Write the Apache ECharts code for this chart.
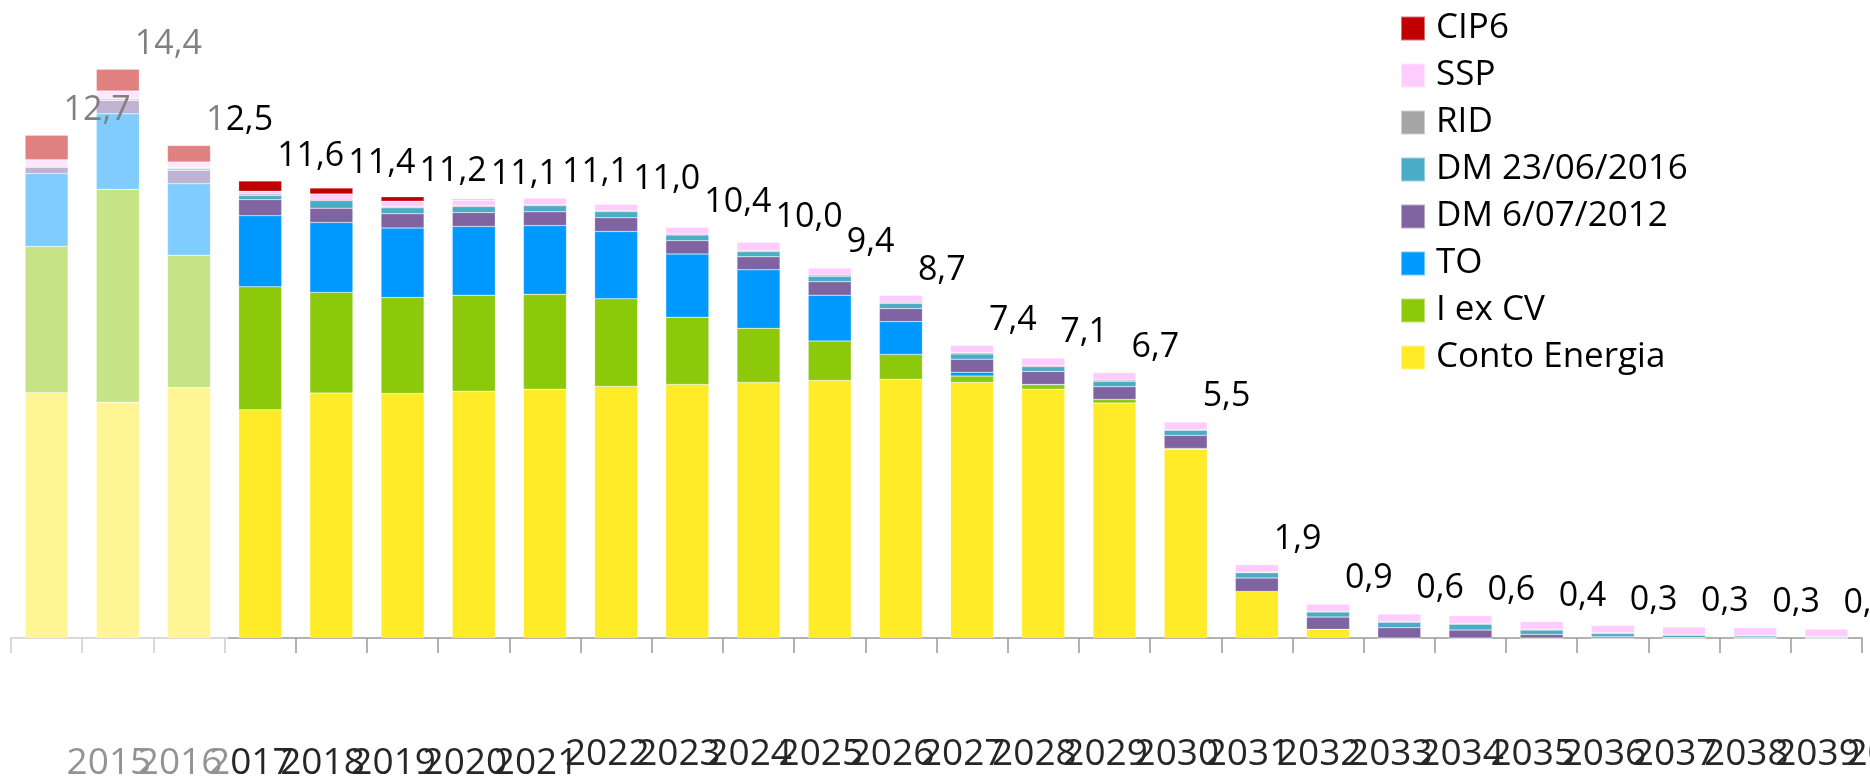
<!DOCTYPE html>
<html>
<head>
<meta charset="utf-8">
<script src="https://cdn.jsdelivr.net/npm/echarts@6.0.0/dist/echarts.min.js"></script>
<style>
	html, body { margin: 0; padding: 0; background: #fff; }
	#incentivi { width: 1870px; height: 777px; }
</style>
</head>
<body>
<div id="incentivi"></div>
<script>
var years = ['2015', '2016', '2017', '2018', '2019', '2020', '2021', '2022', '2023', '2024', '2025', '2026', '2027',
	'2028', '2029', '2030', '2031', '2032', '2033', '2034', '2035', '2036', '2037', '2038', '2039', '2040'];

var contoEnergia = [6.21, 5.97, 6.34, 5.78, 6.20, 6.19, 6.25, 6.30, 6.37, 6.42, 6.47, 6.52, 6.55,
	6.47, 6.30, 5.95, 4.78, 1.18, 0.22, 0, 0, 0, 0, 0, 0, 0];
var iExCv = [3.70, 5.39, 3.35, 3.11, 2.55, 2.43, 2.43, 2.40, 2.22, 1.70, 1.37, 1.00, 0.63,
	0.16, 0.11, 0.09, 0.02, 0, 0, 0, 0, 0, 0, 0, 0, 0];
var to = [1.85, 1.91, 1.81, 1.80, 1.77, 1.76, 1.74, 1.74, 1.70, 1.60, 1.48, 1.16, 0.83,
	0.10, 0.01, 0, 0, 0, 0, 0, 0, 0, 0, 0, 0, 0];
var dm2012 = [0.16, 0.34, 0.34, 0.41, 0.36, 0.36, 0.35, 0.35, 0.35, 0.34, 0.33, 0.34, 0.33,
	0.33, 0.33, 0.32, 0.33, 0.34, 0.31, 0.26, 0.20, 0.09, 0.03, 0.01, 0.01, 0];
var dm2016 = [0, 0, 0.05, 0.10, 0.19, 0.15, 0.15, 0.15, 0.15, 0.14, 0.13, 0.14, 0.13,
	0.13, 0.12, 0.14, 0.13, 0.13, 0.13, 0.14, 0.15, 0.11, 0.08, 0.06, 0.04, 0.02];
var rid = [0.03, 0.05, 0.02, 0.04, 0.04, 0.03, 0.03, 0.03, 0.03, 0.03, 0.03, 0.03, 0.03,
	0.03, 0.03, 0.03, 0.02, 0.02, 0.02, 0.02, 0.02, 0.02, 0.02, 0.02, 0.02, 0.01];
var ssp = [0.16, 0.19, 0.14, 0.07, 0.13, 0.14, 0.13, 0.17, 0.16, 0.17, 0.21, 0.18, 0.18,
	0.19, 0.19, 0.19, 0.19, 0.19, 0.18, 0.19, 0.20, 0.20, 0.19, 0.19, 0.19, 0.20];
var cip6 = [0.62, 0.55, 0.42, 0.26, 0.15, 0.11, 0.02, 0, 0, 0, 0, 0, 0,
	0, 0, 0, 0, 0, 0, 0, 0, 0, 0, 0, 0, 0];

// totali scritti sopra le colonne
var totals = ['12,7', '14,4', '12,5', '11,6', '11,4', '11,2', '11,1', '11,1', '11,0', '10,4', '10,0', '9,4', '8,7',
	'7,4', '7,1', '6,7', '5,5', '1,9', '0,9', '0,6', '0,6', '0,4', '0,3', '0,3', '0,3', '0,2'];

var font = 'Open Sans';

// gli anni fino al 2021 hanno l'etichetta un po' piu' in basso
var yearLabels = [];
for (var i = 0; i < years.length; i++) {
	if (years[i] <= '2021') {
		yearLabels.push({ value : years[i], textStyle : { align : 'left', padding : [ 9, 0, 0, 20 ] } });
	} else {
		yearLabels.push(years[i]);
	}
}

function stackSeries(name, data, color) {
	return {
		name : name,
		type : 'bar',
		stack : 'tot',
		stackStrategy : 'all',
		barWidth : 43,
		data : data,
		itemStyle : {
			color : color,
			borderColor : 'rgba(255,255,255,0.45)',
			borderWidth : 0.5
		}
	};
}

var series = [
	stackSeries('Conto Energia', contoEnergia, '#FFEB28'),
	stackSeries('I ex CV', iExCv, '#8DC90B'),
	stackSeries('TO', to, '#0099FF'),
	stackSeries('DM 6/07/2012', dm2012, '#8064A2'),
	stackSeries('DM 23/06/2016', dm2016, '#4BACC6'),
	stackSeries('RID', rid, '#A6A6A6'),
	stackSeries('SSP', ssp, '#FFCCFF'),
	stackSeries('CIP6', cip6, '#C00000')
];

// etichetta del totale sulla serie in cima
series[7].label = {
	show : true,
	position : 'top',
	distance : 0,
	align : 'left',
	verticalAlign : 'middle',
	offset : [ 17, -25 ],
	fontFamily : font,
	fontSize : 34,
	color : '#000',
	formatter : function(p) {
		return totals[p.dataIndex];
	}
};

var option = {
	animation : false,
	backgroundColor : '#fff',
	grid : {
		left : 11,
		right : 8,
		top : 6,
		bottom : 139,
		containLabel : false,
		outerBoundsMode : 'none'
	},
	legend : {
		orient : 'vertical',
		left : 1395,
		top : 6,
		itemWidth : 24,
		itemHeight : 24,
		itemGap : 12,
		icon : 'rect',
		selectedMode : false,
		data : [ 'CIP6', 'SSP', 'RID', 'DM 23/06/2016', 'DM 6/07/2012', 'TO', 'I ex CV', 'Conto Energia' ],
		textStyle : {
			fontFamily : font,
			fontSize : 35,
			color : '#000',
			padding : [ 0, 0, 0, 6 ]
		}
	},
	xAxis : {
		type : 'category',
		data : yearLabels,
		axisLine : {
			lineStyle : { color : '#999', width : 1.5 }
		},
		axisTick : {
			show : true,
			length : 15,
			lineStyle : { color : '#999', width : 1.5 }
		},
		axisLabel : {
			interval : 0,
			margin : 98,
			align : 'left',
			padding : [ 0, 0, 0, 20 ],
			fontFamily : font,
			fontSize : 37,
			lineHeight : 37,
			color : '#262626'
		}
	},
	yAxis : {
		type : 'value',
		min : 0,
		max : 16,
		show : false,
		splitLine : { show : false }
	},
	// velo bianco sugli anni consuntivi
	graphic : [ {
		type : 'rect',
		left : 0,
		top : 0,
		z : 100,
		shape : { width : 228, height : 777 },
		style : { fill : 'rgba(255,255,255,0.5)' }
	} ],
	series : series
};

var myChart = echarts.init(document.getElementById('incentivi'));
myChart.setOption(option);
</script>
</body>
</html>
